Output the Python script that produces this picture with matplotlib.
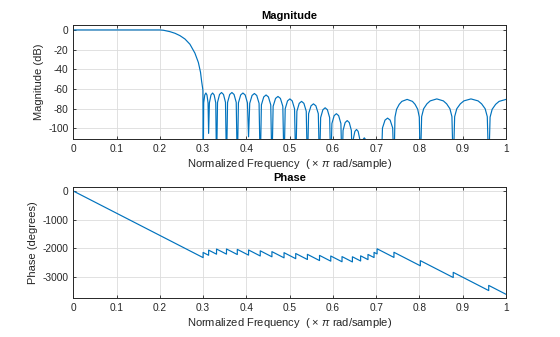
import matplotlib
matplotlib.use('Agg')
import matplotlib.pyplot as plt

plt.rcParams['font.family'] = ['Liberation Sans', 'DejaVu Sans']
plt.rcParams['mathtext.fontset'] = 'custom'
plt.rcParams['mathtext.rm'] = 'Liberation Sans'
plt.rcParams['mathtext.it'] = 'Liberation Sans:italic'
plt.rcParams['axes.unicode_minus'] = False

# magnitude response (dB)
mag_freq = [0.0, 0.05, 0.1, 0.15, 0.2, 0.208, 0.223, 0.235, 0.2465, 0.258, 0.2695,
            0.281, 0.289, 0.294, 0.2965, 0.2995,
            0.3003, 0.3013, 0.3038, 0.3064, 0.3089, 0.3114,
            0.3127, 0.3145, 0.3182, 0.3219, 0.3255, 0.3292,
            0.331, 0.3333, 0.3379, 0.3425, 0.3471, 0.3517,
            0.354, 0.3565, 0.3615, 0.3665, 0.3715, 0.3765,
            0.379, 0.3816, 0.3868, 0.392, 0.3972, 0.4024,
            0.405, 0.4077, 0.4131, 0.4185, 0.4239, 0.4293,
            0.432, 0.4347, 0.4401, 0.4455, 0.4509, 0.4563,
            0.459, 0.4618, 0.4674, 0.473, 0.4786, 0.4842,
            0.487, 0.4897, 0.4951, 0.5005, 0.5059, 0.5113,
            0.514, 0.5167, 0.5221, 0.5275, 0.5329, 0.5383,
            0.541, 0.5438, 0.5494, 0.555, 0.5606, 0.5662,
            0.569, 0.5716, 0.5768, 0.582, 0.5872, 0.5924,
            0.595, 0.5976, 0.6028, 0.608, 0.6132, 0.6184,
            0.621, 0.6234, 0.6282, 0.633, 0.6378, 0.6426,
            0.645, 0.6469, 0.6507, 0.6545, 0.6583, 0.6621,
            0.664, 0.6657, 0.6691, 0.6725, 0.6759, 0.6793,
            0.681, 0.688, 0.695, 0.6985, 0.702, 0.706,
            0.7115, 0.7145, 0.7204, 0.7263, 0.7322, 0.7381,
            0.741, 0.7434, 0.7471, 0.7532, 0.7593, 0.7715, 0.7837, 0.7898, 0.7959, 0.7996,
            0.802, 0.805, 0.8096, 0.8172, 0.8248, 0.84, 0.8552, 0.8628, 0.8704, 0.875,
            0.878, 0.8813, 0.8862, 0.8944, 0.9026, 0.919, 0.9354, 0.9436, 0.9518, 0.9567,
            0.96, 0.9632, 0.968, 0.976, 0.984, 1.0]
mag_db = [0.0, 0.0, 0.0, 0.0, 0.0, -0.3, -1.7, -3.4, -5.8, -9.2, -14.5,
          -23.5, -33, -43, -52, -61,
          -140, -74, -66, -64, -66, -74,
          -105, -74, -66, -64, -66, -74,
          -140, -73.5, -65.5, -63.5, -65.5, -73.5,
          -140, -73.5, -65.5, -63.5, -65.5, -73.5,
          -140, -74, -66, -64, -66, -74,
          -108.5, -74.5, -66.5, -64.5, -66.5, -74.5,
          -140, -76, -68, -66, -68, -76,
          -140, -77.5, -69.5, -67.5, -69.5, -77.5,
          -140, -80, -72, -70, -72, -80,
          -140, -82.5, -74.5, -72.5, -74.5, -82.5,
          -140, -85, -77, -75, -77, -85,
          -140, -89, -81, -79, -81, -89,
          -140, -95, -87, -85, -87, -95,
          -140, -102, -94, -92, -94, -102,
          -140, -111, -103, -101, -103, -111,
          -140, -119.5, -111.5, -109.5, -111.5, -119.5,
          -140, -122, -140, -130, -140, -125,
          -140, -99.5, -91.5, -89.5, -91.5, -99.5,
          -140, -88.5, -80.5, -75.5, -72.5, -70.5, -72.5, -75.5, -80.5, -88.5,
          -140, -88, -80, -75, -72, -70, -72, -75, -80, -88,
          -140, -88, -80, -75, -72, -70, -72, -75, -80, -88,
          -140, -88.5, -80.5, -75.5, -72.5, -70.5]

# unwrapped phase (degrees), jumps of +180 at the stopband zeros
phase_freq = [0.0, 0.3, 0.3, 0.3127, 0.3127, 0.331, 0.331, 0.354, 0.354,
              0.379, 0.379, 0.405, 0.405, 0.432, 0.432, 0.459, 0.459,
              0.487, 0.487, 0.514, 0.514, 0.541, 0.541, 0.569, 0.569,
              0.595, 0.595, 0.621, 0.621, 0.645, 0.645, 0.664, 0.664,
              0.681, 0.681, 0.695, 0.695, 0.702, 0.702, 0.741, 0.741,
              0.802, 0.802, 0.878, 0.878, 0.96, 0.96, 1.0]
phase_deg = [0, -2322, -2142, -2240, -2060, -2202, -2022, -2200, -2020,
             -2214, -2034, -2235, -2055, -2264, -2084, -2293, -2113,
             -2329, -2149, -2358, -2178, -2387, -2207, -2424, -2244,
             -2445, -2265, -2466, -2286, -2472, -2292, -2439, -2259,
             -2391, -2211, -2319, -2139, -2193, -2013, -2315, -2135,
             -2607, -2427, -3015, -2835, -3470, -3290, -3600]

x_ticks = [0, 0.1, 0.2, 0.3, 0.4, 0.5, 0.6, 0.7, 0.8, 0.9, 1]
x_ticklabels = ['0', '0.1', '0.2', '0.3', '0.4', '0.5', '0.6', '0.7', '0.8', '0.9', '1']
mag_ticks = [0, -20, -40, -60, -80, -100]
phase_ticks = [0, -1000, -2000, -3000]

LINE = '#0072BD'
AXC = '#262626'
xlab = 'Normalized Frequency  ( \u00d7 $\\pi$ rad/sample)'

fig = plt.figure(figsize=(5.6, 3.37), dpi=100)
ax1 = fig.add_axes([0.1309, 0.5866, 0.7727, 0.3392])
ax2 = fig.add_axes([0.1309, 0.1148, 0.7727, 0.3303])

ax1.plot(mag_freq, mag_db, color=LINE, lw=0.85)
ax1.set_ylim(-111, 5)
ax1.set_yticks(mag_ticks)
ax1.set_title('Magnitude', fontsize=8, fontweight='bold', color='black', pad=4)
ax1.set_ylabel('Magnitude (dB)', fontsize=8, color=AXC, labelpad=3)

ax2.plot(phase_freq, phase_deg, color=LINE, lw=0.85)
ax2.set_ylim(-3740, 140)
ax2.set_yticks(phase_ticks)
ax2.set_title('Phase', fontsize=8, fontweight='bold', color='black', pad=4)
ax2.set_ylabel('Phase (degrees)', fontsize=8, color=AXC, labelpad=3)

for a in (ax1, ax2):
    a.set_xlim(0, 1)
    a.set_xticks(x_ticks)
    a.set_xticklabels(x_ticklabels)
    a.set_xlabel(xlab, fontsize=8, color=AXC, labelpad=2)
    a.grid(True, color='#dcdcdc', lw=0.6)
    a.set_axisbelow(True)
    a.tick_params(direction='in', length=2.5, width=0.6, colors=AXC,
                  labelsize=7.3, pad=3.5, top=True, right=True)
    for s in a.spines.values():
        s.set_color(AXC)
        s.set_linewidth(0.7)

fig.savefig('out.png', dpi=100)
